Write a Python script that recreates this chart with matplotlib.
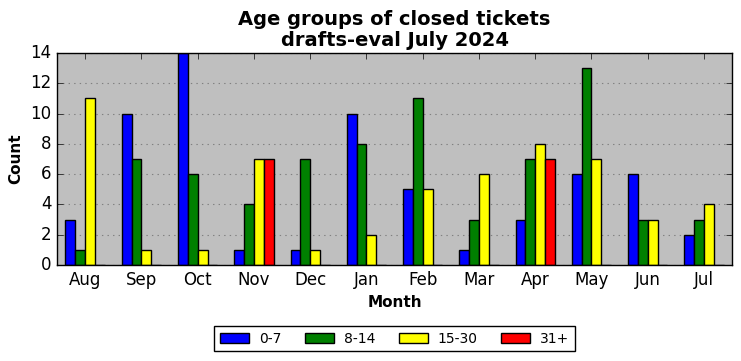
import matplotlib
matplotlib.use("Agg")
import matplotlib.pyplot as plt
import numpy as np

months = ["Aug", "Sep", "Oct", "Nov", "Dec", "Jan", "Feb", "Mar", "Apr", "May", "Jun", "Jul"]
age_groups = ["0-7", "8-14", "15-30", "31+"]
colors = ["blue", "green", "yellow", "red"]

count_0_7 = [3, 10, 14, 1, 1, 10, 5, 1, 3, 6, 6, 2]
count_8_14 = [1, 7, 6, 4, 7, 8, 11, 3, 7, 13, 3, 3]
count_15_30 = [11, 1, 1, 7, 1, 2, 5, 6, 8, 7, 3, 4]
count_31_plus = [0, 0, 0, 7, 0, 0, 0, 0, 7, 0, 0, 0]

series = [count_0_7, count_8_14, count_15_30, count_31_plus]

plt.style.use("classic")
fig, ax = plt.subplots(figsize=(7.41, 3.61), dpi=100)
fig.patch.set_facecolor("white")
fig.subplots_adjust(left=0.077, right=0.988, top=0.853, bottom=0.266)
ax.set_facecolor("#bfbfbf")

x = np.arange(len(months))
group_width = 0.7
bar_w = group_width / len(series)
for i, (vals, label, color) in enumerate(zip(series, age_groups, colors)):
    ax.bar(x - group_width / 2 + i * bar_w, vals, width=bar_w, align="edge",
           color=color, edgecolor="black", linewidth=1, label=label, zorder=2)

ax.set_xlim(-0.5, len(months) - 0.5)
ax.set_ylim(0, 14)
ax.set_yticks(range(0, 15, 2))
ax.set_xticks(x)
ax.set_xticklabels(months)
ax.tick_params(labelsize=12)
ax.yaxis.grid(True, linestyle=":", color="#808080", linewidth=0.8, zorder=0)
ax.set_axisbelow(True)

ax.set_title("Age groups of closed tickets\ndrafts-eval July 2024",
             fontsize=14, fontweight="bold", linespacing=1.15)
ax.set_xlabel("Month", fontsize=11, fontweight="bold")
ax.set_ylabel("Count", fontsize=11, fontweight="bold")

leg = ax.legend(loc="upper center", bbox_to_anchor=(0.5, -0.257), ncol=4,
                fontsize=10, fancybox=False, frameon=True, handlelength=2.1,
                columnspacing=1.7, handletextpad=0.7)
leg.get_frame().set_edgecolor("black")

fig.savefig("out.png", dpi=100, facecolor="white")
